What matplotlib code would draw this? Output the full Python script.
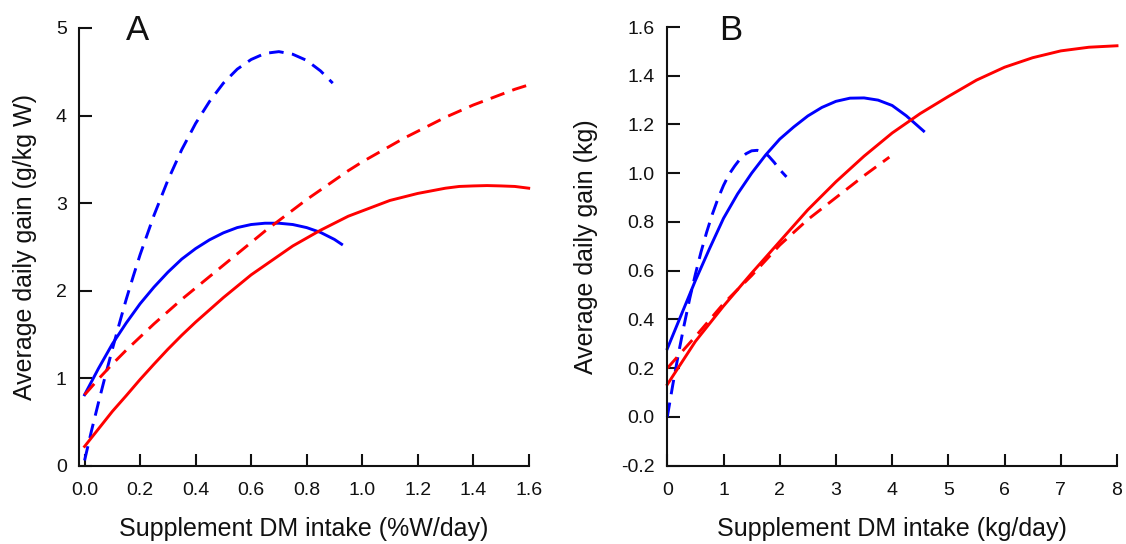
import matplotlib
matplotlib.use("Agg")
import matplotlib.pyplot as plt

plt.rcParams['font.family'] = ['Liberation Sans', 'DejaVu Sans']

# ---------------- Panel A data (x: %W/day, y: g/kg W) ----------------
a_blue_dash_x = [0.0, 0.025, 0.05, 0.075, 0.1, 0.125, 0.15, 0.175, 0.2, 0.25, 0.3, 0.35, 0.4,
                 0.45, 0.5, 0.55, 0.6, 0.65, 0.7, 0.75, 0.8, 0.85, 0.894]
a_blue_dash_y = [0.06, 0.40, 0.72, 1.03, 1.33, 1.62, 1.90, 2.16, 2.41, 2.86, 3.26, 3.61, 3.91,
                 4.16, 4.37, 4.53, 4.64, 4.71, 4.73, 4.70, 4.63, 4.51, 4.37]

a_blue_solid_x = [0.0, 0.05, 0.1, 0.15, 0.2, 0.25, 0.3, 0.35, 0.4, 0.45, 0.5, 0.55, 0.6, 0.65,
                  0.7, 0.75, 0.8, 0.85, 0.9, 0.926]
a_blue_solid_y = [0.81, 1.11, 1.39, 1.63, 1.85, 2.04, 2.21, 2.36, 2.48, 2.58, 2.66, 2.72, 2.755, 2.77,
                  2.77, 2.755, 2.72, 2.665, 2.585, 2.53]

a_red_dash_x = [0.0, 0.05, 0.1, 0.15, 0.2, 0.25, 0.3, 0.35, 0.4, 0.45, 0.5, 0.55, 0.6, 0.65, 0.7,
                0.75, 0.8, 0.85, 0.9, 0.95, 1.0, 1.05, 1.1, 1.15, 1.2, 1.25, 1.3, 1.35, 1.4, 1.45,
                1.5, 1.55, 1.6]
a_red_dash_y = [0.81, 0.99, 1.16, 1.32, 1.47, 1.62, 1.76, 1.90, 2.03, 2.16, 2.29, 2.42, 2.55, 2.68,
                2.80, 2.92, 3.04, 3.15, 3.26, 3.37, 3.47, 3.56, 3.65, 3.74, 3.82, 3.90, 3.98, 4.05,
                4.12, 4.18, 4.24, 4.30, 4.35]

a_red_solid_x = [0.0, 0.05, 0.1, 0.15, 0.2, 0.25, 0.3, 0.35, 0.4, 0.45, 0.5, 0.55, 0.6, 0.65, 0.7,
                 0.75, 0.8, 0.85, 0.9, 0.95, 1.0, 1.05, 1.1, 1.15, 1.2, 1.25, 1.3, 1.35, 1.4, 1.45,
                 1.5, 1.55, 1.6]
a_red_solid_y = [0.22, 0.42, 0.62, 0.80, 0.985, 1.16, 1.33, 1.49, 1.64, 1.78, 1.92, 2.05, 2.18, 2.29,
                 2.40, 2.51, 2.60, 2.69, 2.77, 2.85, 2.91, 2.97, 3.03, 3.07, 3.11, 3.14, 3.17, 3.19,
                 3.196, 3.20, 3.196, 3.19, 3.17]

# ---------------- Panel B data (x: kg/day, y: kg) ----------------
b_blue_dash_x = [0.0, 0.1, 0.2, 0.3, 0.4, 0.5, 0.6, 0.7, 0.8, 0.9, 1.0, 1.1, 1.2, 1.3, 1.4, 1.5,
                 1.6, 1.7, 1.8, 1.9, 2.0, 2.12]
b_blue_dash_y = [0.0, 0.135, 0.261, 0.378, 0.487, 0.586, 0.677, 0.758, 0.831, 0.895, 0.950, 0.996,
                 1.030, 1.060, 1.080, 1.092, 1.094, 1.087, 1.071, 1.045, 1.015, 0.985]

b_blue_solid_x = [0.0, 0.25, 0.5, 0.75, 1.0, 1.25, 1.5, 1.75, 2.0, 2.25, 2.5, 2.75, 3.0, 3.25, 3.5,
                  3.75, 4.0, 4.25, 4.56]
b_blue_solid_y = [0.28, 0.42, 0.56, 0.69, 0.815, 0.915, 1.00, 1.075, 1.14, 1.19, 1.235, 1.27, 1.295,
                  1.308, 1.309, 1.30, 1.278, 1.236, 1.173]

b_red_solid_x = [0.0, 0.5, 1.0, 1.5, 2.0, 2.5, 3.0, 3.5, 4.0, 4.5, 5.0, 5.5, 6.0, 6.5, 7.0, 7.5, 8.0]
b_red_solid_y = [0.133, 0.31, 0.455, 0.59, 0.72, 0.85, 0.965, 1.07, 1.165, 1.245, 1.315, 1.382,
                 1.435, 1.474, 1.502, 1.517, 1.523]

b_red_dash_x = [0.0, 0.5, 1.0, 1.5, 2.0, 2.5, 3.0, 3.5, 3.95]
b_red_dash_y = [0.20, 0.33, 0.465, 0.58, 0.705, 0.81, 0.90, 0.99, 1.066]

BLUE = '#0000ff'
RED = '#ff0000'
LW = 2.1
DASH = (0, (5.0, 2.9))
INK = '#111111'

fig = plt.figure(figsize=(11.26, 5.44), dpi=100)
axA = fig.add_axes([79.3 / 1126, 1 - 465.7 / 544, (528.7 - 79.3) / 1126, (465.7 - 28) / 544])
axB = fig.add_axes([667.3 / 1126, 1 - 465.7 / 544, (1117.0 - 667.3) / 1126, (465.7 - 27) / 544])

axA.plot(a_blue_dash_x, a_blue_dash_y, color=BLUE, lw=LW, linestyle=DASH)
axA.plot(a_blue_solid_x, a_blue_solid_y, color=BLUE, lw=LW)
axA.plot(a_red_dash_x, a_red_dash_y, color=RED, lw=LW, linestyle=DASH)
axA.plot(a_red_solid_x, a_red_solid_y, color=RED, lw=LW)

axB.plot(b_blue_dash_x, b_blue_dash_y, color=BLUE, lw=LW, linestyle=DASH)
axB.plot(b_blue_solid_x, b_blue_solid_y, color=BLUE, lw=LW)
axB.plot(b_red_dash_x, b_red_dash_y, color=RED, lw=LW, linestyle=DASH)
axB.plot(b_red_solid_x, b_red_solid_y, color=RED, lw=LW)

a_xticks = [0.0, 0.2, 0.4, 0.6, 0.8, 1.0, 1.2, 1.4, 1.6]
a_yticks = [0, 1, 2, 3, 4, 5]
b_xticks = [0, 1, 2, 3, 4, 5, 6, 7, 8]
b_yticks = [-0.2, 0.0, 0.2, 0.4, 0.6, 0.8, 1.0, 1.2, 1.4, 1.6]

axA.set_xlim(-0.019, 1.6)
axA.set_ylim(0, 5)
axA.set_xticks(a_xticks)
axA.set_xticklabels([f'{v:.1f}' for v in a_xticks])
axA.set_yticks(a_yticks)
axA.set_yticklabels([str(v) for v in a_yticks])

axB.set_xlim(0, 8)
axB.set_ylim(-0.2, 1.6)
axB.set_xticks(b_xticks)
axB.set_xticklabels([str(v) for v in b_xticks])
axB.set_yticks(b_yticks)
axB.set_yticklabels([f'{v:.1f}' for v in b_yticks])

for ax in (axA, axB):
    for s in ('top', 'right'):
        ax.spines[s].set_visible(False)
    for s in ('left', 'bottom'):
        ax.spines[s].set_linewidth(1.5)
        ax.spines[s].set_color(INK)
    ax.tick_params(direction='in', length=9, width=1.5, labelsize=14,
                   color=INK, labelcolor=INK)
    ax.tick_params(axis='x', pad=12)
    ax.tick_params(axis='y', pad=9)
    ax.set_facecolor('none')
    for line in ax.get_lines():
        line.set_clip_on(False)

axA.set_ylabel('Average daily gain (g/kg W)', fontsize=18, color=INK)
axA.yaxis.set_label_coords(-0.094, 0.5)
axA.set_xlabel('Supplement DM intake (%W/day)', fontsize=18, labelpad=13, color=INK)
axB.set_ylabel('Average daily gain (kg)', fontsize=18, color=INK)
axB.yaxis.set_label_coords(-0.154, 0.5)
axB.set_xlabel('Supplement DM intake (kg/day)', fontsize=18, labelpad=13, color=INK)

fig.text(137 / 1126, 1 - 31 / 544, 'A', fontsize=25, ha='center', va='center', color=INK)
fig.text(731 / 1126, 1 - 31 / 544, 'B', fontsize=25, ha='center', va='center', color=INK)

fig.savefig('out.png', dpi=100)
